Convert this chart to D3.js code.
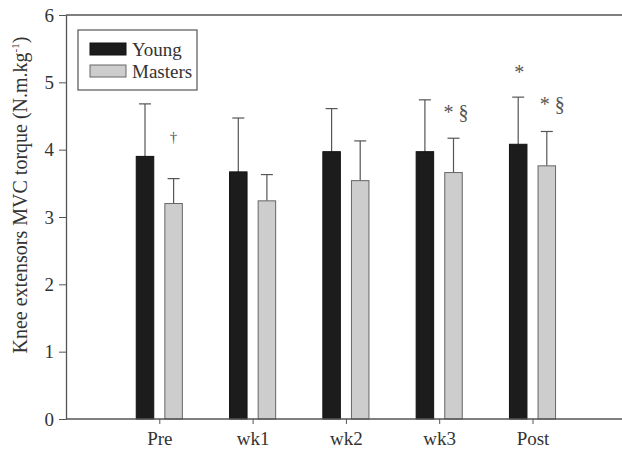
<!DOCTYPE html>
<html>
<head>
<meta charset="utf-8">
<script src="https://cdn.jsdelivr.net/npm/d3@7"></script>
<style>
  body { margin: 0; background: #fff; }
  svg text { font-family: "Liberation Serif", "DejaVu Serif", serif; }
</style>
</head>
<body>
<svg id="chart" width="622" height="450"></svg>
<script>
// data
var categories = [ 'Pre', 'wk1', 'wk2', 'wk3', 'Post' ];
var youngMean = [ 3.90, 3.67, 3.97, 3.97, 4.08 ];
var youngSD = [ 0.78, 0.80, 0.64, 0.77, 0.70 ];
var mastersMean = [ 3.20, 3.24, 3.54, 3.66, 3.76 ];
var mastersSD = [ 0.37, 0.39, 0.59, 0.51, 0.51 ];
var yTicks = [ 0, 1, 2, 3, 4, 5, 6 ];
var youngMarks = [ '', '', '', '', '*' ];
var mastersMarks = [ '\u2020', '', '', '* \u00a7', '* \u00a7' ];

var svg = d3.select( '#chart' );
var plotLeft = 66, plotTop = 15, plotBottom = 419;

// categories sit at 1..5 on a 0..6 linear x axis (right edge is cropped)
var x = d3.scaleLinear().domain( [ 0, 6 ] ).range( [ plotLeft, plotLeft + 6 * 93.3 ] );
var y = d3.scaleLinear().domain( [ 0, 6 ] ).range( [ plotBottom, plotTop ] );
var barW = 17.5, offset = 14.3;

var series = [
	{ name: 'Young', mean: youngMean, sd: youngSD, marks: youngMarks, dx: -offset, fill: '#1c1c1c', stroke: '#111' },
	{ name: 'Masters', mean: mastersMean, sd: mastersSD, marks: mastersMarks, dx: offset, fill: '#cdcdcd', stroke: '#666' }
];

// frame line on top
svg.append( 'line' )
	.attr( 'x1', plotLeft ).attr( 'x2', 622 )
	.attr( 'y1', plotTop ).attr( 'y2', plotTop )
	.attr( 'stroke', '#555' ).attr( 'stroke-width', 1.3 );

series.forEach( function( s ) {
	var g = svg.append( 'g' ).attr( 'class', 'series-' + s.name );

	// error bars (upper only)
	g.selectAll( 'line.err' )
		.data( categories )
		.enter().append( 'line' )
			.attr( 'class', 'err' )
			.attr( 'x1', function( d, i ) { return x( i + 1 ) + s.dx; } )
			.attr( 'x2', function( d, i ) { return x( i + 1 ) + s.dx; } )
			.attr( 'y1', function( d, i ) { return y( s.mean[ i ] ); } )
			.attr( 'y2', function( d, i ) { return y( s.mean[ i ] + s.sd[ i ] ); } )
			.attr( 'stroke', '#555' ).attr( 'stroke-width', 1.2 );

	g.selectAll( 'line.cap' )
		.data( categories )
		.enter().append( 'line' )
			.attr( 'class', 'cap' )
			.attr( 'x1', function( d, i ) { return x( i + 1 ) + s.dx - 6; } )
			.attr( 'x2', function( d, i ) { return x( i + 1 ) + s.dx + 6; } )
			.attr( 'y1', function( d, i ) { return y( s.mean[ i ] + s.sd[ i ] ); } )
			.attr( 'y2', function( d, i ) { return y( s.mean[ i ] + s.sd[ i ] ); } )
			.attr( 'stroke', '#555' ).attr( 'stroke-width', 1.2 );

	g.selectAll( 'rect' )
		.data( categories )
		.enter().append( 'rect' )
			.attr( 'x', function( d, i ) { return x( i + 1 ) + s.dx - barW / 2; } )
			.attr( 'y', function( d, i ) { return y( s.mean[ i ] ); } )
			.attr( 'width', barW )
			.attr( 'height', function( d, i ) { return plotBottom - y( s.mean[ i ] ); } )
			.attr( 'fill', s.fill )
			.attr( 'stroke', s.stroke ).attr( 'stroke-width', 1 );
} );

// significance marks, placed relative to the error bar cap
svg.selectAll( 'text.mark' )
	.data( [
		{ i: 0, s: series[ 1 ], dy: -37, dx: 0, size: 15 },
		{ i: 3, s: series[ 1 ], dy: -19, dx: -10, size: 20 },
		{ i: 4, s: series[ 0 ], dy: -18, dx: 1, size: 20 },
		{ i: 4, s: series[ 1 ], dy: -20, dx: -7, size: 20 }
	] )
	.enter().append( 'text' )
		.attr( 'class', 'mark' )
		.attr( 'x', function( d ) { return x( d.i + 1 ) + d.s.dx + d.dx; } )
		.attr( 'y', function( d ) { return y( d.s.mean[ d.i ] + d.s.sd[ d.i ] ) + d.dy; } )
		.attr( 'text-anchor', function( d ) { return d.s.marks[ d.i ].length > 1 ? 'start' : 'middle'; } )
		.attr( 'font-size', function( d ) { return d.size; } )
		.attr( 'fill', '#555' )
		.text( function( d ) { return d.s.marks[ d.i ]; } );

// axes
var xAxis = d3.axisBottom( x )
	.tickValues( [ 1, 2, 3, 4, 5 ] )
	.tickFormat( function( d ) { return categories[ d - 1 ]; } )
	.tickSize( 5 ).tickSizeOuter( 0 );

var gx = svg.append( 'g' )
	.attr( 'transform', 'translate(0,' + plotBottom + ')' )
	.call( xAxis );
gx.select( '.domain' ).remove();
gx.append( 'line' ).attr( 'x1', plotLeft ).attr( 'x2', 622 )
	.attr( 'stroke', '#555' ).attr( 'stroke-width', 1.3 );
gx.selectAll( '.tick line' ).attr( 'stroke', '#555' );
gx.selectAll( '.tick text' )
	.attr( 'dy', '0.95em' )
	.attr( 'font-size', 19 )
	.attr( 'font-family', '"Liberation Serif", serif' )
	.attr( 'fill', '#333' );

var gy = svg.append( 'g' )
	.attr( 'transform', 'translate(' + plotLeft + ',0)' )
	.call( d3.axisLeft( y ).tickValues( yTicks ).tickFormat( d3.format( 'd' ) ).tickSize( 7 ).tickSizeOuter( 0 ) );
gy.select( '.domain' ).attr( 'stroke', '#555' ).attr( 'stroke-width', 1.3 );
gy.selectAll( '.tick line' ).attr( 'stroke', '#555' );
gy.selectAll( '.tick text' )
	.attr( 'x', -12 )
	.attr( 'font-size', 19 )
	.attr( 'font-family', '"Liberation Serif", serif' )
	.attr( 'fill', '#333' );

// y label
var yl = svg.append( 'text' )
	.attr( 'transform', 'translate(27,' + 195 + ') rotate(-90)' )
	.attr( 'text-anchor', 'middle' )
	.attr( 'font-size', 20 )
	.attr( 'fill', '#333' );
yl.append( 'tspan' ).text( 'Knee extensors MVC torque (N.m.kg' );
yl.append( 'tspan' ).attr( 'font-size', 11 ).attr( 'dy', -8 ).text( '-1' );
yl.append( 'tspan' ).attr( 'dy', 8 ).text( ')' );

// legend
var lg = svg.append( 'g' ).attr( 'transform', 'translate(78,30)' );
lg.append( 'rect' )
	.attr( 'width', 119 ).attr( 'height', 60 )
	.attr( 'fill', '#fff' ).attr( 'stroke', '#555' ).attr( 'stroke-width', 1.2 );
series.forEach( function( s, i ) {
	lg.append( 'rect' )
		.attr( 'x', 12 ).attr( 'y', 13 + i * 22 )
		.attr( 'width', 36 ).attr( 'height', 12 )
		.attr( 'fill', s.fill ).attr( 'stroke', s.stroke );
	lg.append( 'text' )
		.attr( 'x', 54 ).attr( 'y', 26 + i * 22 )
		.attr( 'font-size', 19 )
		.attr( 'fill', '#333' )
		.text( s.name );
} );
</script>
</body>
</html>
